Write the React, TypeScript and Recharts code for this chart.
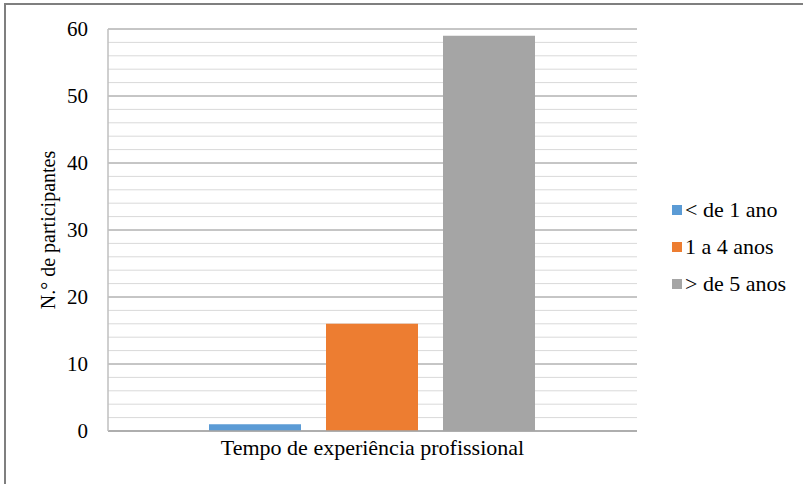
import { BarChart, Bar, XAxis, YAxis, CartesianGrid } from 'recharts';

// Categoria única no eixo X, uma série por faixa de experiência
const categories = ['Tempo de experiência profissional'];
const seriesNames = ['< de 1 ano', '1 a 4 anos', '> de 5 anos'];
const seriesValues = [1, 16, 59];
const seriesColors = ['#5B9BD5', '#ED7D31', '#A5A5A5'];
const majorTicks = [0, 10, 20, 30, 40, 50, 60];
const minorTicks = [2, 4, 6, 8, 12, 14, 16, 18, 22, 24, 26, 28, 32, 34, 36, 38, 42, 44, 46, 48, 52, 54, 56, 58];

const data = categories.map((name) => {
  const row: Record<string, string | number> = { name };
  seriesNames.forEach((s, i) => {
    row[`s${i}`] = seriesValues[i];
  });
  return row;
});

const FONT = "'Times New Roman', 'Liberation Serif', 'DejaVu Serif', serif";

const App = () => {
  return (
    <div style={{ position: 'fixed', left: 0, top: 0, width: 803, height: 484, background: '#fff', fontFamily: FONT, overflow: 'hidden' }}>
      {/* moldura do gráfico */}
      <div style={{ position: 'absolute', left: 4, top: 3, width: 820, height: 500, borderLeft: '2px solid #7f7f7f', borderTop: '2px solid #7f7f7f' }} />

      <div style={{ position: 'absolute', left: 0, top: 0 }}>
        <BarChart
          width={803}
          height={484}
          data={data}
          margin={{ top: 29, right: 166, bottom: 23, left: 30 }}
          barCategoryGap={101}
          barGap={25}
          style={{ fontFamily: FONT }}
        >
          <CartesianGrid vertical={false} horizontalValues={minorTicks} stroke="#d9d9d9" strokeWidth={1} />
          <CartesianGrid vertical={false} horizontalValues={majorTicks} stroke="#8c8c8c" strokeWidth={1} />
          <XAxis
            dataKey="name"
            height={30}
            tickLine={false}
            tickSize={0}
            tickMargin={8}
            axisLine={{ stroke: '#a6a6a6', strokeWidth: 1.5 }}
            tick={{ fill: '#000', fontSize: 22, fontFamily: FONT }}
          />
          <YAxis
            domain={[0, 60]}
            ticks={majorTicks}
            interval={0}
            width={78}
            tickLine={false}
            tickSize={0}
            tickMargin={20}
            axisLine={{ stroke: '#bfbfbf', strokeWidth: 1.5 }}
            tick={{ fill: '#000', fontSize: 21, fontFamily: FONT }}
            label={{
              value: 'N.° de participantes',
              angle: -90,
              position: 'insideLeft',
              offset: 18,
              style: { textAnchor: 'middle', fill: '#000', fontSize: 20, fontFamily: FONT },
            }}
          />
          {seriesNames.map((s, i) => (
            <Bar key={s} dataKey={`s${i}`} name={s} fill={seriesColors[i]} isAnimationActive={false} />
          ))}
        </BarChart>
      </div>

      {/* legenda manual à direita */}
      <div style={{ position: 'absolute', left: 672, top: 198, display: 'flex', flexDirection: 'column', gap: 13 }}>
        {seriesNames.map((s, i) => (
          <div key={s} style={{ display: 'flex', alignItems: 'center', height: 24 }}>
            <div style={{ width: 10, height: 10, backgroundColor: seriesColors[i], marginRight: 3 }} />
            <span style={{ fontSize: 22, color: '#000', whiteSpace: 'nowrap' }}>{s}</span>
          </div>
        ))}
      </div>
    </div>
  );
};

export default App;
